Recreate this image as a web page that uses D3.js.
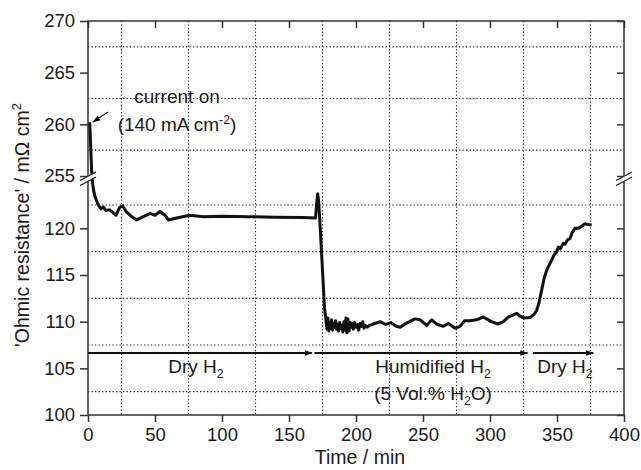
<!DOCTYPE html>
<html>
<head>
<meta charset="UTF-8">
<script src="https://d3js.org/d3.v7.min.js"></script>
<style>
  body { margin: 0; background: #fff; }
  svg text { font-family: "Liberation Sans", Arial, sans-serif; fill: #1a1a1a; }
  .grid line { stroke: #222; stroke-width: 1.1; stroke-dasharray: 1.3,2.2; }
  .axis .domain { display: none; }
  .axis line { stroke: #333; stroke-width: 1.5; }
  .axis text { font-size: 18.5px; }
</style>
</head>
<body>
<svg id="chart" width="641" height="470"></svg>
<script>
// x ticks and gridlines (min)
const xTicks = [0, 50, 100, 150, 200, 250, 300, 350, 400];
const xGrid = [25, 75, 125, 175, 225, 275, 325, 375];
// broken y axis: lower and upper part
const yTicksLow = [100, 105, 110, 115, 120];
const yTicksUp = [255, 260, 265, 270];
const yGridLow = [102.5, 107.5, 112.5, 117.5, 122.5];
const yGridUp = [257.5, 262.5, 267.5];

// measured ohmic resistance, [time min, mOhm cm2]
const resistance = [
  [1.3, 260.2], [3, 254.6], [3.2, 125.2], [4, 124.2], [5.2, 123.4], [6.5, 122.9], [7.7, 122.5],
  [9.5, 122.1], [11.4, 122.3], [13.4, 121.9], [15.9, 122.0], [18.4, 121.7], [20.9, 121.4],
  [23.4, 122.2], [25.9, 122.4], [28.4, 121.8], [32.6, 121.25], [36.3, 120.9], [41.3, 121.25],
  [46.3, 121.6], [50, 121.4], [53.7, 121.8], [57.5, 121.4], [60, 120.9], [66.2, 121.1],
  [76, 121.4], [86, 121.25], [100, 121.3], [120, 121.25], [140, 121.2], [160, 121.15],
  [169.8, 121.1], [170.6, 122.6], [171.4, 123.7], [172.2, 122.8], [173.5, 119.5], [175, 115.5],
  [176.5, 111.5], [177.5, 110.3], [178.3, 109.2], [179, 110.4], [179.7, 109.0], [180.4, 109.9],
  [181.1, 109.3], [181.8, 110.2], [182.5, 109.1], [183.2, 109.8], [184, 109.4], [184.8, 110.1],
  [185.5, 109.2], [186.3, 109.7], [187, 109.0], [187.8, 109.9], [188.6, 109.3], [189.4, 109.6],
  [190.2, 108.9], [191, 110.0], [191.8, 109.1], [192.5, 110.4], [193.2, 108.8], [194, 110.3],
  [194.8, 109.0], [195.6, 109.9], [196.4, 109.4], [197.2, 109.8], [198, 109.2], [199, 109.9],
  [200, 109.4], [201, 109.7], [202, 109.1], [203, 109.8], [204, 109.5], [205, 110.0],
  [206, 109.3], [207, 109.6], [208.5, 109.4], [210, 109.6], [214, 109.8], [218, 110.0],
  [222, 109.7], [226, 109.9], [230, 109.5], [233, 109.4], [237, 109.8], [240, 110.0],
  [244, 110.3], [248, 110.2], [252.7, 109.6], [256.5, 110.2], [260, 109.75], [265, 109.5],
  [269, 109.8], [274, 109.3], [277.6, 109.5], [281, 110.1], [285, 110.1], [290, 110.2],
  [295, 110.5], [301, 110.0], [306, 109.75], [310, 110.0], [313.7, 110.5], [317, 110.7],
  [320, 110.9], [322.4, 110.6], [325, 110.4], [329.9, 110.45], [333, 110.8], [334.8, 111.2],
  [336.5, 112.0], [338.6, 113.4], [340.5, 114.7], [342.3, 115.5], [344, 116.0], [346, 116.6],
  [348, 117.2], [349.8, 117.5], [351, 118.0], [352.5, 117.8], [354.7, 118.4], [356, 118.3],
  [358, 118.8], [359.7, 118.9], [361.5, 119.6], [363.4, 120.0], [366, 120.0], [368, 120.2],
  [370.9, 120.5], [373, 120.4], [375.9, 120.35]
];

// gas phases: [start, end]
const phases = [[0, 167], [169, 328], [332, 377]];

const svg = d3.select('#chart');
const margin = {left: 88, right: 17, top: 21, bottom: 55};
const W = 641, H = 470;
const x0 = margin.left, x1 = W - margin.right, yTop = margin.top, yBot = H - margin.bottom;
const yBreak = 178;

const x = d3.scaleLinear().domain([0, 400]).range([x0, x1]);
const yLow = d3.scaleLinear().domain([100, 125.2]).range([yBot, yBreak + 1.8]);
const yUp = d3.scaleLinear().domain([255, 270]).range([yBreak - 2, yTop]);
const y = v => v > 200 ? yUp(v) : yLow(v);

// gridlines
const grid = svg.append('g').attr('class', 'grid');
grid.selectAll('line.v').data(xGrid).join('line').attr('class', 'v')
    .attr('x1', d => x(d)).attr('x2', d => x(d)).attr('y1', yTop).attr('y2', yBot);
grid.selectAll('line.h').data(yGridLow.concat(yGridUp)).join('line').attr('class', 'h')
    .attr('x1', x0).attr('x2', x1).attr('y1', d => y(d)).attr('y2', d => y(d));

// axes
svg.append('g').attr('class', 'axis').attr('transform', `translate(0,${yBot})`)
   .call(d3.axisBottom(x).tickValues(xTicks).tickSize(7).tickPadding(6));
svg.append('g').attr('class', 'axis').attr('transform', `translate(0,${yTop})`)
   .call(d3.axisBottom(x).tickValues(xTicks).tickSize(7).tickFormat(''));
svg.append('g').attr('class', 'axis').attr('transform', `translate(${x0},0)`)
   .call(d3.axisLeft(yLow).tickValues(yTicksLow).tickSize(8).tickPadding(5));
svg.append('g').attr('class', 'axis').attr('transform', `translate(${x0},0)`)
   .call(d3.axisLeft(yUp).tickValues(yTicksUp).tickSize(8).tickPadding(5));
svg.append('g').attr('class', 'axis').attr('transform', `translate(${x1},0)`)
   .call(d3.axisLeft(yLow).tickValues(yTicksLow).tickSize(7).tickFormat(''));
svg.append('g').attr('class', 'axis').attr('transform', `translate(${x1},0)`)
   .call(d3.axisLeft(yUp).tickValues(yTicksUp).tickSize(7).tickFormat(''));

// frame
svg.append('rect').attr('x', x0).attr('y', yTop).attr('width', x1 - x0).attr('height', yBot - yTop)
   .attr('fill', 'none').attr('stroke', '#333').attr('stroke-width', 1.5);

// data line
const line = d3.line().x(d => x(d[0])).y(d => y(d[1])).curve(d3.curveLinear);
svg.append('path').datum(resistance).attr('d', line)
   .attr('fill', 'none').attr('stroke', '#111').attr('stroke-width', 3).attr('stroke-linejoin', 'round');

// axis break marks
[x0, x1].forEach(cx => {
  const g = svg.append('g');
  g.append('polygon')
   .attr('points', `${cx - 8},${yBreak + 2.5} ${cx + 8},${yBreak - 6} ${cx + 8},${yBreak - 1} ${cx - 8},${yBreak + 7.5}`)
   .attr('fill', '#fff');
  [0, 5].forEach(o => g.append('line')
    .attr('x1', cx - 8).attr('y1', yBreak + 2.5 + o).attr('x2', cx + 8).attr('y2', yBreak - 6 + o)
    .attr('stroke', '#222').attr('stroke-width', 1.3));
});

// arrows
const defs = svg.append('defs');
defs.append('marker').attr('id', 'head').attr('viewBox', '0 0 10 10').attr('refX', 9).attr('refY', 5)
    .attr('markerWidth', 8).attr('markerHeight', 8).attr('markerUnits', 'userSpaceOnUse').attr('orient', 'auto')
    .append('path').attr('d', 'M0,1.5 L10,5 L0,8.5 Z').attr('fill', '#111');
const arrowY = 353;
svg.selectAll('line.phase').data(phases).join('line').attr('class', 'phase')
   .attr('x1', d => x(d[0])).attr('x2', d => x(d[1])).attr('y1', arrowY).attr('y2', arrowY)
   .attr('stroke', '#111').attr('stroke-width', 1.8).attr('marker-end', 'url(#head)');
svg.append('line').attr('x1', 108).attr('y1', 112).attr('x2', 93).attr('y2', 122)
   .attr('stroke', '#111').attr('stroke-width', 1.2).attr('marker-end', 'url(#head)');

// labels
function label(tx, ty, parts, size) {
  const t = svg.append('text').attr('x', tx).attr('y', ty).attr('text-anchor', 'middle')
               .style('font-size', size + 'px');
  parts.forEach(p => {
    const s = t.append('tspan').text(p[0]);
    if (p[1] === 'sub') s.attr('dy', 5).style('font-size', (size * 0.65) + 'px');
    else if (p[1] === 'sup') s.attr('dy', -7).style('font-size', (size * 0.65) + 'px');
    else if (p[1] === 'back') s.attr('dy', -5);
    else if (p[1] === 'down') s.attr('dy', 7);
  });
  return t;
}
label(177, 103, [['current on']], 19);
label(177, 131, [['(140 mA cm'], ['-2', 'sup'], [')', 'down']], 19);
label(196, 373, [['Dry H'], ['2', 'sub']], 19);
label(433, 373, [['Humidified H'], ['2', 'sub']], 19);
label(433, 400, [['(5 Vol.% H'], ['2', 'sub'], ['O)', 'back']], 19);
label(565, 373, [['Dry H'], ['2', 'sub']], 19);

svg.append('text').attr('x', 360).attr('y', 464).attr('text-anchor', 'middle')
   .style('font-size', '19.5px').text('Time / min');
const yt = svg.append('text').attr('transform', `translate(29,225) rotate(-90)`)
   .attr('text-anchor', 'middle').style('font-size', '19.5px');
yt.append('tspan').text("'Ohmic resistance' / m\u03A9 cm");
yt.append('tspan').text('2').attr('dy', -8).style('font-size', '13px');
</script>
</body>
</html>
